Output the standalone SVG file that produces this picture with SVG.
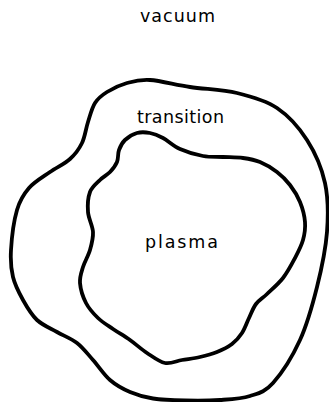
<svg xmlns="http://www.w3.org/2000/svg" width="329" height="402" viewBox="0 0 329 402">
<style>
.b{fill:none;stroke:#000;stroke-width:3.8;stroke-linejoin:round;stroke-linecap:round}
.t{font-family:"DejaVu Sans",sans-serif;font-size:17.5px;fill:#000;text-anchor:middle}
</style>
<rect width="329" height="402" fill="#fff"/>
<g id="outer">
<path class="b" d="M95,103 C98.17,98 101.67,95.33 107,92 S119.83,85 127,83 S139.5,79.33 150,80 S175.5,84.83 190,87 S222.5,89.5 237,93 S265.33,100.17 277,108 S299,127.5 307,140 S321.67,167.67 325,183 S328.33,214.67 327,232 S321.5,269 317,287 S307.33,324 300,340 S281.33,373.67 273,383 S258.83,393.17 250,396 S230.83,399.25 220,400 S196.17,400.75 185,400.5 S162.17,399.92 153,398.5 S137.17,395.08 130,392 S116.17,385.33 110,380 S98.5,366.17 93,360 S83,347.67 77,343 S63.67,335.83 57,332 S42.67,325.33 37,320 S27,307.17 23,300 S15,285.33 13,277 S10.33,261.17 11,250 S14,220.33 17,210 S23.5,194.33 29,188 S43.17,176.83 50,172 S64.67,163.83 70,159 S79,149.17 82,143 S85.83,128.67 88,122 S91.83,108 95,103 Z"/>
</g>
<g id="inner">
<path class="b" d="M119,150 C120.33,146.33 122,142.83 125,140 S132.83,134.17 137,133 S145.67,132.17 150,133 S158,135.33 163,138 S173.33,146 180,149 S195.83,154.67 203,156 S216.33,156.67 223,157 S236.83,157.17 243,158 S254.33,159.67 260,162 S272,168.17 277,172 S286.17,180 290,185 S297.5,195.83 300,202 S304.5,215.67 305,222 S304.67,234 303,240 S298.33,251.67 295,258 S287.67,272 283,278 S271.5,289.67 267,294 S259,300 256,304 S251.33,313.17 249,318 S244.83,328.67 242,333 S236.17,340.83 232,344 S222.33,349.83 217,352 S205.83,355.67 200,357 S187.83,359 182,360 S170.83,364.17 165,363 S152.83,356.83 147,353 S135.67,344 130,340 S118.33,332.67 113,329 S102.5,322.33 98,318 S89,308.83 86,303 S80.5,289 80,283 S81.33,272.5 83,267 S88.33,255.83 90,250 S93.33,238.33 93,232 S88.5,218.67 88,212 S88,197.33 90,192 S96.67,183.33 100,180 S107.17,175 110,172 S115.5,165.67 117,162 S117.67,153.67 119,150 Z"/>
</g>
<g id="labels">
<text class="t" x="177.5" y="22" textLength="75" lengthAdjust="spacing">vacuum</text>
<text class="t" x="180.5" y="123" textLength="87" lengthAdjust="spacing">transition</text>
<text class="t" x="181.5" y="248" textLength="73" lengthAdjust="spacing">plasma</text>
</g>
</svg>
